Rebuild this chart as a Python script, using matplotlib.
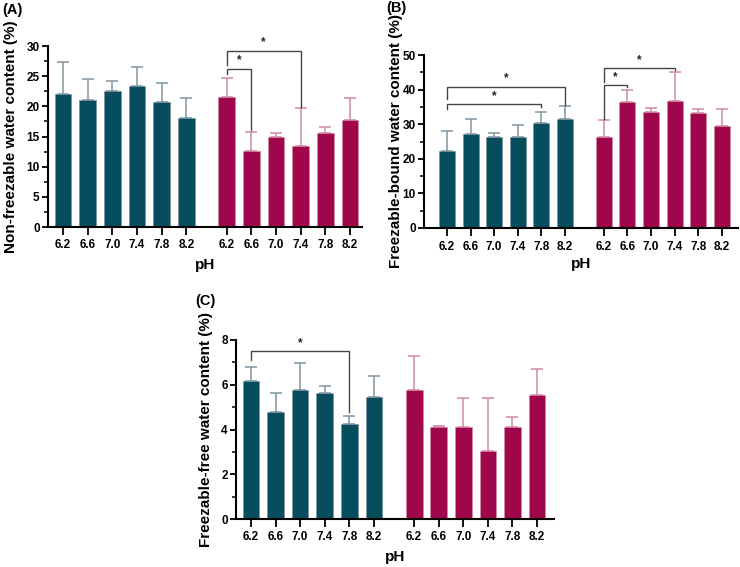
import numpy as np
import matplotlib
matplotlib.use("Agg")
import matplotlib.pyplot as plt

plt.rcParams["font.family"] = ["Liberation Sans", "DejaVu Sans"]
plt.rcParams["font.weight"] = "bold"

# ---- data ----
ph_labels = ["6.2", "6.6", "7.0", "7.4", "7.8", "8.2"]

nonfreeze_teal = [22.0, 21.1, 22.5, 23.4, 20.7, 18.1]
nonfreeze_teal_err = [5.4, 3.5, 1.7, 3.1, 3.1, 3.2]
nonfreeze_mag = [21.5, 12.6, 14.9, 13.4, 15.6, 17.8]
nonfreeze_mag_err = [3.2, 3.2, 0.6, 6.3, 0.9, 3.6]

bound_teal = [22.2, 27.3, 26.4, 26.3, 30.4, 31.6]
bound_teal_err = [5.7, 4.2, 1.1, 3.4, 3.2, 3.6]
bound_mag = [26.4, 36.5, 33.5, 36.6, 33.1, 29.5]
bound_mag_err = [4.7, 3.3, 1.1, 8.4, 1.2, 4.8]

free_teal = [6.17, 4.80, 5.77, 5.62, 4.25, 5.44]
free_teal_err = [0.64, 0.82, 1.19, 0.34, 0.37, 0.94]
free_mag = [5.78, 4.12, 4.12, 3.05, 4.10, 5.52]
free_mag_err = [1.51, 0.03, 1.31, 2.36, 0.48, 1.17]

# brackets: (left bar, right bar, y_top, left leg bottom, right leg bottom, star y)
brackets_a = [(6, 7, 26.2, 25.4, 16.1, 27.6), (6, 9, 29.2, 26.9, 19.9, 30.6)]
brackets_b = [(0, 4, 35.8, 34.4, 35.0, 38.0), (0, 5, 40.8, 37.3, 35.5, 43.2),
              (6, 7, 41.3, 31.5, 40.7, 43.6), (6, 9, 46.1, 42.3, 45.7, 48.4)]
brackets_c = [(0, 4, 7.51, 7.11, 4.80, 7.86)]

TEAL = "#064d5e"
MAG = "#a0064b"
TEAL_ERR = "#7f95a0"
MAG_ERR = "#cf8aa0"

GAP = 6.64
x_pos = np.concatenate([np.arange(6), np.arange(6) + GAP])


def draw_panel(ax, teal, teal_err, mag, mag_err, ylim, yticks, minor, ylabel,
               brackets, xlim, ylab_x, xlab_y):
    bw = 0.68
    for vals, errs, col, ecol, xs in [(teal, teal_err, TEAL, TEAL_ERR, x_pos[:6]),
                                      (mag, mag_err, MAG, MAG_ERR, x_pos[6:])]:
        ax.bar(xs, vals, width=bw, color=col, edgecolor=ecol, linewidth=0.5, zorder=2)
        eb = ax.errorbar(xs, vals, yerr=[np.zeros(6), errs], fmt="none",
                         ecolor=ecol, elinewidth=1.1, capsize=4, capthick=1.1, zorder=1)
        for cl in eb[1]:
            cl.set_color(col)
    for l, r, yt, yl, yr, ys in brackets:
        ax.plot([x_pos[l], x_pos[l], x_pos[r], x_pos[r]], [yl, yt, yt, yr],
                color="#444444", lw=1.0, zorder=3, solid_joinstyle="miter")
        ax.text((x_pos[l] + x_pos[r]) / 2, ys, "*", ha="center", va="center",
                fontsize=8.5, color="#222222")
    ax.set_ylim(*ylim)
    ax.set_xlim(*xlim)
    ax.set_yticks(yticks)
    ax.set_yticks(minor, minor=True)
    ax.set_xticks(x_pos)
    ax.set_xticklabels(ph_labels * 2)
    for s in ["top", "right"]:
        ax.spines[s].set_visible(False)
    for s in ["left", "bottom"]:
        ax.spines[s].set_linewidth(1.5)
    ax.tick_params(axis="y", which="major", length=4, width=1.3, labelsize=8.5, pad=2)
    ax.tick_params(axis="y", which="minor", length=3, width=1.1)
    ax.tick_params(axis="x", length=6, width=1.3, labelsize=8.5, pad=3)
    ax.set_ylabel(ylabel, fontsize=11, fontweight="bold")
    ax.yaxis.set_label_coords(ylab_x, 0.5)
    ax.set_xlabel("pH", fontsize=11, fontweight="bold")
    ax.xaxis.set_label_coords(0.5, xlab_y)


W, H = 740, 567
fig = plt.figure(figsize=(W / 100, H / 100), dpi=100)


def add_ax(left, right, top, bottom):
    return fig.add_axes([left / W, 1 - bottom / H, (right - left) / W, (bottom - top) / H])


ax_a = add_ax(48, 362, 46, 227)
draw_panel(ax_a, nonfreeze_teal, nonfreeze_teal_err, nonfreeze_mag, nonfreeze_mag_err,
           (0, 30), np.arange(0, 31, 5), np.arange(2.5, 30, 5),
           "Non-freezable water content (%)", brackets_a, (-0.61, 12.13), -0.0955, -0.17)

ax_b = add_ax(424, 738, 55, 228)
draw_panel(ax_b, bound_teal, bound_teal_err, bound_mag, bound_mag_err,
           (0, 50), np.arange(0, 51, 10), np.arange(5, 50, 10),
           "Freezable-bound water content (%)", brackets_b, (-0.97, 12.32), -0.067, -0.17)

ax_c = add_ax(236, 554, 340, 519)
draw_panel(ax_c, free_teal, free_teal_err, free_mag, free_mag_err,
           (0, 8), np.arange(0, 9, 2), np.arange(1, 8, 2),
           "Freezable-free water content (%)", brackets_c, (-0.61, 12.33), -0.072, -0.173)

fig.text(2 / W, 1 - 10 / H, "(A)", fontsize=10.5, fontweight="bold", va="center", ha="left")
fig.text(386 / W, 1 - 8 / H, "(B)", fontsize=10.5, fontweight="bold", va="center", ha="left")
fig.text(195 / W, 1 - 301 / H, "(C)", fontsize=10.5, fontweight="bold", va="center", ha="left")

fig.savefig("out.png", dpi=100)
